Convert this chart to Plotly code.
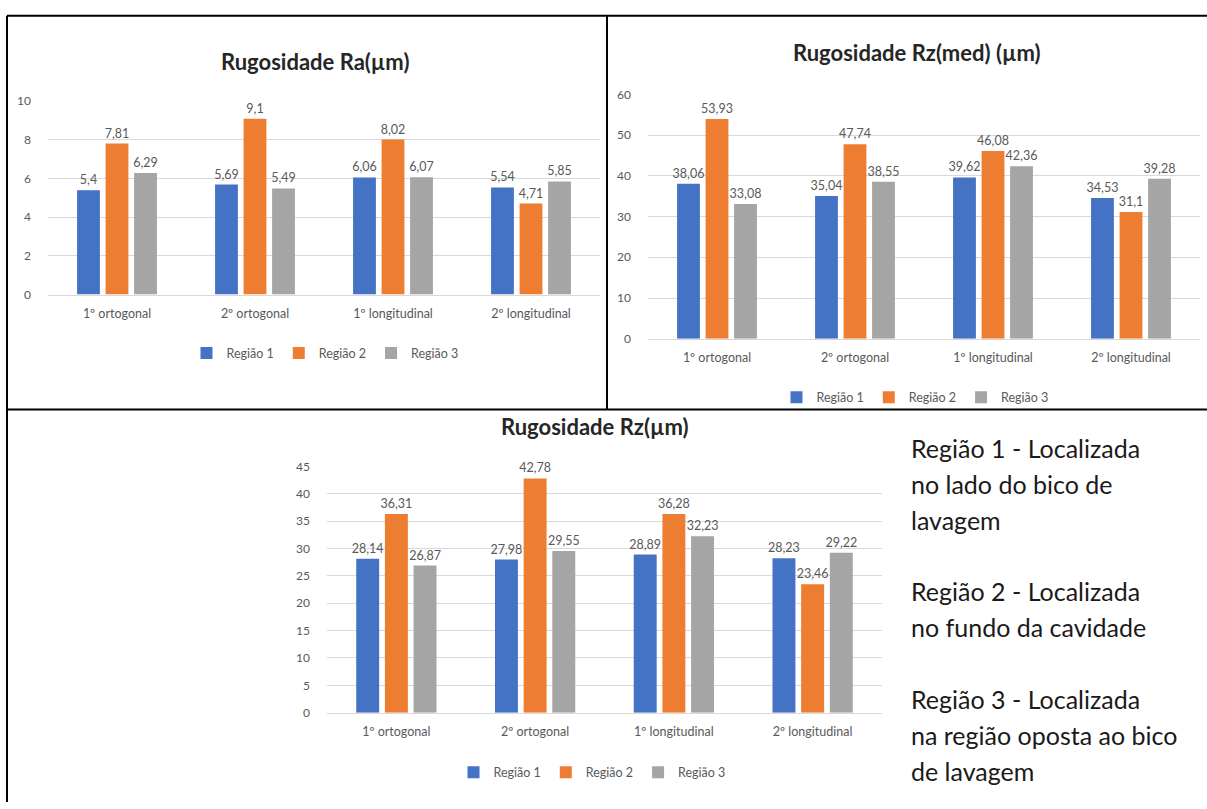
import plotly.graph_objects as go

W, H = 1207, 809

categorias = ["1º ortogonal", "2º ortogonal", "1º longitudinal", "2º longitudinal"]
regioes = ["Região 1", "Região 2", "Região 3"]
cores = ["#4472C4", "#ED7D31", "#A5A5A5"]

# Rugosidade Ra (µm)
ra_r1 = [5.4, 5.69, 6.06, 5.54]
ra_r2 = [7.81, 9.1, 8.02, 4.71]
ra_r3 = [6.29, 5.49, 6.07, 5.85]

# Rugosidade Rz(med) (µm)
rzmed_r1 = [38.06, 35.04, 39.62, 34.53]
rzmed_r2 = [53.93, 47.74, 46.08, 31.1]
rzmed_r3 = [33.08, 38.55, 42.36, 39.28]

# Rugosidade Rz (µm)
rz_r1 = [28.14, 27.98, 28.89, 28.23]
rz_r2 = [36.31, 42.78, 36.28, 23.46]
rz_r3 = [26.87, 29.55, 32.23, 29.22]

descricao = [
    "Região 1 - Localizada",
    "no lado do bico de",
    "lavagem",
    "",
    "Região 2 - Localizada",
    "no fundo da cavidade",
    "",
    "Região 3 - Localizada",
    "na região oposta ao bico",
    "de lavagem",
]


def px(x):
    return x / W


def py(y):
    return 1 - y / H


def rotulo(v):
    return str(v).replace(".", ",")


GRID = "#D9D9D9"
TXT = "#595959"
FONT = "Lato"

fig = go.Figure()

graficos = [
    # (series, xaxis, yaxis, legend)
    ([ra_r1, ra_r2, ra_r3], "x", "y", "legend"),
    ([rzmed_r1, rzmed_r2, rzmed_r3], "x2", "y2", "legend2"),
    ([rz_r1, rz_r2, rz_r3], "x3", "y3", "legend3"),
]

for series, xa, ya, lg in graficos:
    for nome, cor, vals in zip(regioes, cores, series):
        fig.add_trace(go.Bar(
            x=categorias, y=vals, name=nome,
            marker=dict(color=cor, line=dict(width=0)),
            text=[rotulo(v) for v in vals],
            textposition="outside", cliponaxis=False, constraintext="none",
            textfont=dict(family=FONT, size=12.5, color=TXT),
            xaxis=xa, yaxis=ya, legend=lg,
        ))


def eixo_x(x0, x1, anchor):
    return dict(domain=[px(x0), px(x1)], anchor=anchor, type="category",
                showgrid=False, showline=True, linecolor=GRID, linewidth=1,
                ticks="", ticklabelstandoff=7,
                tickfont=dict(family=FONT, size=12.5, color=TXT), fixedrange=True)


def eixo_y(y0, y1, rng, dtick, anchor):
    return dict(domain=[py(y0), py(y1)], anchor=anchor, range=rng, dtick=dtick,
                showgrid=True, gridcolor=GRID, gridwidth=1, zeroline=False,
                showline=False, ticks="", ticklabelstandoff=16,
                tickfont=dict(family=FONT, size=12, color=TXT), fixedrange=True)


legenda = dict(orientation="h", xanchor="center", yanchor="middle",
               font=dict(family=FONT, size=12.5, color=TXT), itemwidth=30,
               bgcolor="rgba(0,0,0,0)", traceorder="normal")

fig.update_layout(
    width=W, height=H,
    margin=dict(l=0, r=0, t=0, b=0),
    paper_bgcolor="white", plot_bgcolor="white",
    barmode="group", bargap=0.38, bargroupgap=0.2,
    xaxis=eixo_x(48, 600, "y"),
    yaxis=eixo_y(292, 95, [0, 10], 2, "x"),
    xaxis2=eixo_x(648, 1200, "y2"),
    yaxis2=eixo_y(337, 88, [0, 60], 10, "x2"),
    xaxis3=eixo_x(327, 882, "y3"),
    yaxis3=eixo_y(718, 467, [0, 45], 5, "x3"),
    legend=dict(legenda, x=px(325), y=py(352)),
    legend2=dict(legenda, x=px(915), y=py(397)),
    legend3=dict(legenda, x=px(592), y=py(779)),
    showlegend=True,
)

titulos = [
    ("Rugosidade Ra(µm)", 315, 55),
    ("Rugosidade Rz(med) (µm)", 917, 45),
    ("Rugosidade Rz(µm)", 595, 426),
]
for t, x, y in titulos:
    fig.add_annotation(text=f"<b>{t}</b>", x=px(x), y=py(y), xref="paper", yref="paper",
                       showarrow=False, xanchor="center", yanchor="middle",
                       font=dict(family=FONT, size=22, color="#262626"))

# texto descritivo das regiões, uma linha por anotação
y0, passo = 448, 36.6
for i, linha in enumerate(descricao):
    if not linha:
        continue
    fig.add_annotation(text=linha, x=px(909), y=py(y0 + i * passo), xref="paper", yref="paper",
                       showarrow=False, xanchor="left", yanchor="middle",
                       font=dict(family=FONT, size=25, color="#1a1a1a"))

# molduras
bordas = [
    (7, 8, W, 8),
    (7, 8, 7, H),
    (7, 409, W, 409),
    (607, 8, 607, 409),
]
for x0, y0_, x1, y1 in bordas:
    fig.add_shape(type="line", xref="paper", yref="paper",
                  x0=px(x0), y0=py(y0_), x1=px(x1), y1=py(y1),
                  line=dict(color="black", width=2))

fig.write_html("out.html")
